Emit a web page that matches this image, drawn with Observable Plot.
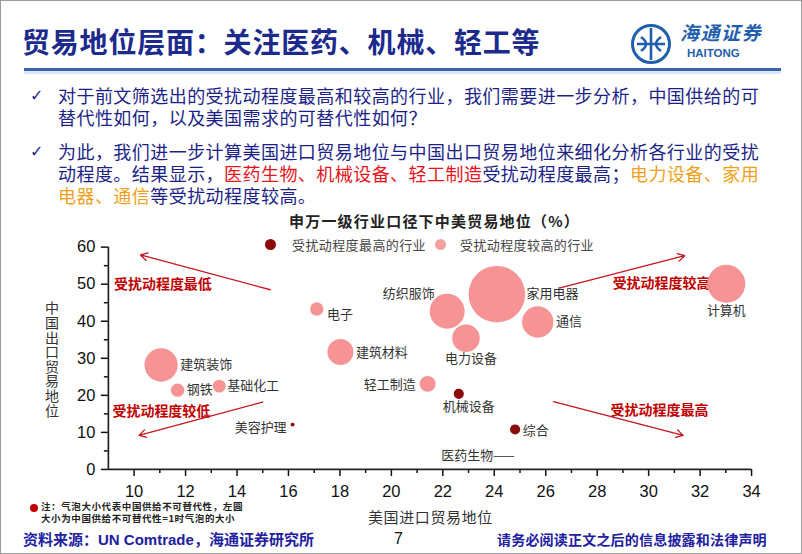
<!DOCTYPE html>
<html><head><meta charset="utf-8">
<script src="https://cdn.jsdelivr.net/npm/d3@7"></script>
<script src="https://cdn.jsdelivr.net/npm/@observablehq/plot@0.6"></script>
<style>
html,body{margin:0;padding:0;background:#fff;}
body{width:802px;height:554px;overflow:hidden;font-family:"Noto Sans CJK SC","Noto Sans",sans-serif;}
#page{position:relative;width:802px;height:554px;box-sizing:border-box;border:1px solid #9a9a9a;overflow:hidden;}
.abs{position:absolute;white-space:nowrap;}
#chart{position:absolute;left:-1px;top:199px;}
.navy{color:#1d1f88;}
.red{color:#e8141c;}
.orange{color:#f2a01a;}
.ln{position:absolute;white-space:nowrap;font-size:18px;line-height:22px;height:22px;letter-spacing:0.45px;left:57px;}
</style></head>
<body><div id="page">
<div class="abs" style="left:21px;top:20px;font-size:28px;line-height:40px;font-weight:bold;color:#1b2a8c;letter-spacing:0.8px;">贸易地位层面：关注医药、机械、轻工等</div>
<svg class="abs" style="left:628px;top:21px" width="44" height="44" viewBox="0 0 44 44">
  <circle cx="22" cy="22" r="18.5" fill="none" stroke="#1f5fad" stroke-width="3"/>
  <path d="M22 6 V38 M12 15 Q22 22 12 29 M32 15 Q22 22 32 29 M8 22 H36" fill="none" stroke="#1f5fad" stroke-width="2.6"/>
</svg>
<div class="abs" style="left:679px;top:19px;font-size:19px;line-height:24px;font-weight:bold;font-style:italic;color:#1f5fad;letter-spacing:1.5px;">海通证券</div>
<div class="abs" style="left:686px;top:46px;font-size:11.5px;line-height:13px;font-weight:bold;font-family:'Liberation Sans',Arial,sans-serif;color:#1f5fad;">HAITONG</div>
<div class="abs" style="left:23px;top:67px;width:757px;height:3px;background:#3a62a8;"></div>
<div class="abs" style="left:23px;top:70px;width:757px;height:3px;background:#d8e8f6;"></div>

<div class="abs navy" style="left:29px;top:84px;font-size:16px;line-height:22px;font-family:'DejaVu Sans';">✓</div>
<div class="ln navy" style="top:83px;">对于前文筛选出的受扰动程度最高和较高的行业，我们需要进一步分析，中国供给的可</div>
<div class="ln navy" style="top:105px;">替代性如何，以及美国需求的可替代性如何？</div>
<div class="abs navy" style="left:29px;top:140px;font-size:16px;line-height:22px;font-family:'DejaVu Sans';">✓</div>
<div class="ln navy" style="top:139px;">为此，我们进一步计算美国进口贸易地位与中国出口贸易地位来细化分析各行业的受扰</div>
<div class="ln navy" style="top:161px;">动程度。结果显示，<span class="red">医药生物、机械设备、轻工制造</span>受扰动程度最高；<span class="orange">电力设备、家用</span></div>
<div class="ln navy" style="top:183px;"><span class="orange">电器、通信</span>等受扰动程度较高。</div>

<div id="chart"></div>

<div class="abs" style="left:288px;top:210px;font-size:15px;line-height:20px;font-weight:bold;color:#222;letter-spacing:1.2px;">申万一级行业口径下中美贸易地位（%）</div>
<div class="abs" style="left:264px;top:238px;width:11px;height:11px;border-radius:50%;background:#8b0a0a;"></div>
<div class="abs" style="left:291px;top:234px;font-size:13px;line-height:20px;color:#444;letter-spacing:0.4px;">受扰动程度最高的行业</div>
<div class="abs" style="left:434px;top:238px;width:11px;height:11px;border-radius:50%;background:#f5a0a0;"></div>
<div class="abs" style="left:459px;top:234px;font-size:13px;line-height:20px;color:#444;letter-spacing:0.4px;">受扰动程度较高的行业</div>

<div class="abs" style="left:43px;top:300px;font-size:14px;line-height:16px;color:#333;writing-mode:vertical-rl;text-orientation:upright;letter-spacing:0.6px;">中国出口贸易地位</div>
<div class="abs" style="left:367px;top:506px;font-size:15px;line-height:20px;color:#333;letter-spacing:0.6px;">美国进口贸易地位</div>

<div class="abs" style="left:29px;top:503px;width:8px;height:8px;border-radius:50%;background:#c00000;"></div>
<div class="abs" style="left:40px;top:500px;font-size:9.5px;line-height:11px;height:11px;font-weight:bold;color:#222;letter-spacing:0.6px;">注：气泡大小代表中国供给不可替代性，左圆</div>
<div class="abs" style="left:40px;top:512px;font-size:9.5px;line-height:11px;height:11px;font-weight:bold;color:#222;letter-spacing:0.6px;">大小为中国供给不可替代性=1时气泡的大小</div>

<div class="abs" style="left:22px;top:527px;font-size:15px;line-height:22px;font-weight:bold;color:#2020a0;">资料来源：<span style="font-family:'Liberation Sans',Arial,sans-serif;">UN Comtrade</span>，海通证券研究所</div>
<div class="abs" style="left:393px;top:527px;font-size:16px;line-height:22px;color:#111;font-family:'Liberation Sans',Arial,sans-serif;">7</div>
<div class="abs" style="left:496px;top:528px;font-size:14px;line-height:20px;font-weight:bold;color:#2020a0;letter-spacing:0.2px;">请务必阅读正文之后的信息披露和法律声明</div>
</div>
<script>
// ---- data ----
const industries = ["建筑装饰","钢铁","基础化工","美容护理","电子","建筑材料","轻工制造","纺织服饰","电力设备","家用电器","通信","机械设备","综合","医药生物","计算机"];
const usImportPosition = [11.05,11.69,13.31,16.16,17.10,18.02,21.41,22.17,22.90,24.10,25.69,22.62,24.81,24.80,33.02];
const chinaExportPosition = [28.2,21.4,22.5,12.1,43.3,31.7,23.1,42.7,35.4,47.3,39.8,20.4,10.8,3.8,50.1];
const nonSubstitutability = [17.4,2.8,2.6,0.25,2.8,10.6,4.0,19.1,11.9,50.1,15.4,1.6,1.6,0,22.6];
const impactLevel = ["较高","较高","较高","最高","较高","较高","较高","较高","较高","较高","较高","最高","最高","最高","较高"];
const xTicks = [10,12,14,16,18,20,22,24,26,28,30,32,34];
const xMinorTicks = [11,13,15,17,19,21,23,25,27,29,31,33];
const yTicks = [0,10,20,30,40,50,60];
const yMinorTicks = [5,15,25,35,45,55];
const annotationText = ["受扰动程度最低","受扰动程度较低","受扰动程度较高","受扰动程度最高"];
const annotationX = [9.22,9.16,28.6,28.52];
const annotationY = [50.0,15.7,50.3,15.9];
const arrowFromX = [15.29,15.0,26.56,26.3];
const arrowFromY = [48.5,18.2,49.0,18.3];
const arrowToX = [10.25,10.19,31.4,31.34];
const arrowToY = [57.9,9.2,57.7,9.2];

// ---- build tables ----
const bubbles = industries.map((name,i)=>({name, x:usImportPosition[i], y:chinaExportPosition[i], size:nonSubstitutability[i], level:impactLevel[i]}));
const annotations = annotationText.map((t,i)=>({t, x:annotationX[i], y:annotationY[i]}));
const arrows = arrowFromX.map((v,i)=>({x1:v, y1:arrowFromY[i], x2:arrowToX[i], y2:arrowToY[i]}));

const rMax = 28.3, sizeMax = 50.1;
const rPix = v => rMax*Math.sqrt(v/sizeMax);
const labelPlacement = {
  "建筑装饰":["right",0,0], "钢铁":["right",0,0], "基础化工":["right",-1,0], "美容护理":["left",0,3],
  "电子":["right",1,6], "建筑材料":["right",0,1], "轻工制造":["left",0,1], "纺织服饰":["aboveLeft",0,0],
  "电力设备":["below",5,-1], "家用电器":["right",-1,0], "通信":["right",0,0], "机械设备":["below",10,0],
  "综合":["right",0,1], "医药生物":["leader",0,0], "计算机":["below",0,1]
};
const labelMarks = bubbles.map(d=>{
  const [side, ddx, ddy] = labelPlacement[d.name];
  const r = rPix(d.size);
  let dx=0, dy=0, anchor="middle", text=d.name;
  if (side==="right"){dx=r+2.5; anchor="start";}
  else if (side==="left"){dx=-(r+4); anchor="end";}
  else if (side==="below"){dy=r+7.5;}
  else if (side==="aboveLeft"){dx=-12.5; dy=-17.7; anchor="end";}
  else if (side==="leader"){anchor="end"; text=d.name+"——";}
  return Plot.text([d],{x:"x",y:"y",text:()=>text,dx:dx+ddx,dy:dy+ddy,textAnchor:anchor,fontSize:13,fill:"#333",fontFamily:"Noto Sans CJK SC"});
});

const chart = Plot.plot({
  width:802, height:320,
  marginLeft:108, marginRight:50, marginTop:46.7, marginBottom:50.7,
  x:{domain:[9,34]},
  y:{domain:[0,60]},
  r:{type:"sqrt", domain:[0,sizeMax], range:[0,rMax]},
  color:{domain:["最高","较高"], range:["#8b0a0a","#f69395"]},
  style:{fontFamily:"'Liberation Sans',Arial,sans-serif", color:"#111", background:"transparent", overflow:"visible"},
  marks:[
    Plot.axisX({ticks:xTicks, tickSize:7, tickPadding:9, label:null, fontSize:16.5, strokeWidth:1.5}),
    Plot.axisX({ticks:xMinorTicks, tickSize:4, tickFormat:()=>"", label:null, strokeWidth:1.5}),
    Plot.axisY({ticks:yTicks, tickSize:7, tickPadding:6, label:null, fontSize:16.5, strokeWidth:1.5}),
    Plot.axisY({ticks:yMinorTicks, tickSize:4, tickFormat:()=>"", label:null, strokeWidth:1.5}),
    Plot.ruleY([0],{x1:9, x2:34, stroke:"#222", strokeWidth:1.7}),
    Plot.ruleX([9],{y1:0, y2:60, stroke:"#222", strokeWidth:1.7}),
    Plot.arrow(arrows,{x1:"x1",y1:"y1",x2:"x2",y2:"y2",stroke:"#c8141e",strokeWidth:1.3,headLength:9}),
    Plot.text(annotations,{x:"x",y:"y",text:"t",textAnchor:"start",fill:"#c00000",fontSize:14,fontWeight:"bold",fontFamily:"Noto Sans CJK SC"}),
    Plot.dot(bubbles.filter(d=>d.size>0),{x:"x",y:"y",r:"size",fill:"level",stroke:null,sort:{channel:"r",order:"descending"}}),
    ...labelMarks
  ]
});
document.getElementById("chart").appendChild(chart);
</script>
</body></html>
